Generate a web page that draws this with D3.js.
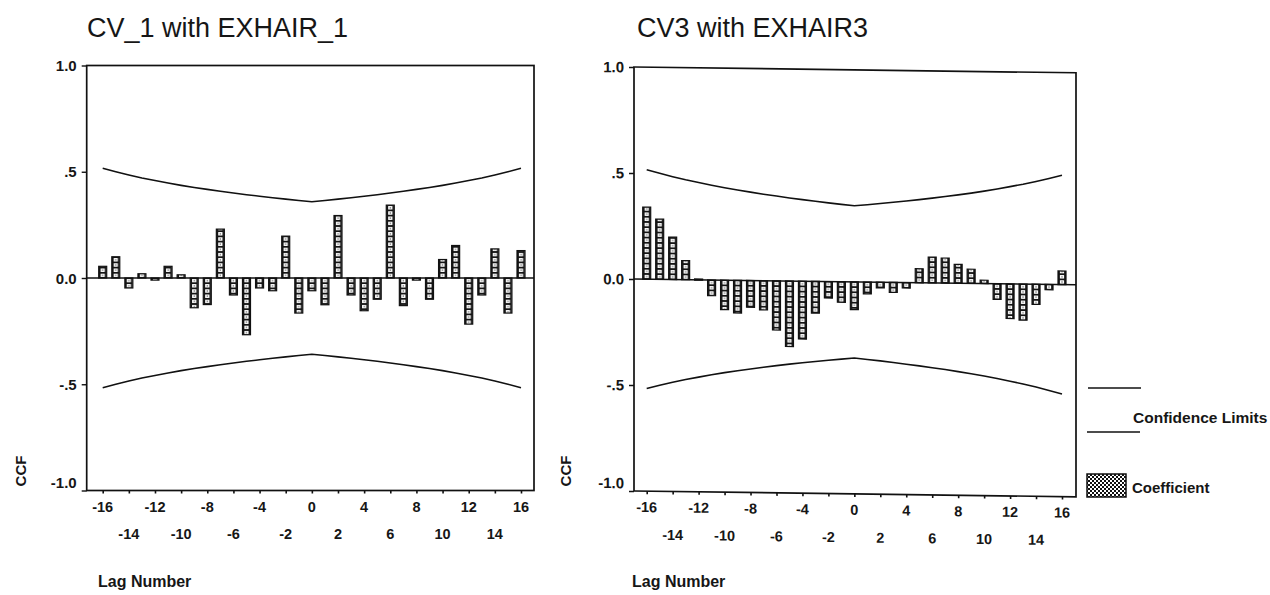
<!DOCTYPE html>
<html><head><meta charset="utf-8">
<script src="https://cdn.jsdelivr.net/npm/d3@7"></script>
<style>
body{margin:0;background:#fff}
svg{display:block}
text{font-family:"Liberation Sans",Arial,sans-serif;fill:#161616}
</style>
</head><body>
<svg id="c" width="1270" height="595"></svg>
<script>
// ---------------- data ----------------
const lags = [-16,-15,-14,-13,-12,-11,-10,-9,-8,-7,-6,-5,-4,-3,-2,-1,0,1,2,3,4,5,6,7,8,9,10,11,12,13,14,15,16];
const xTickValues = [-16,-14,-12,-10,-8,-6,-4,-2,0,2,4,6,8,10,12,14,16];
const xTickLabels = ["-16","-14","-12","-10","-8","-6","-4","-2","0","2","4","6","8","10","12","14","16"];
const yTicks = [1,0.5,0,-0.5,-1];
const yTickLabels = ["1.0",".5","0.0","-.5","-1.0"];
const titles = ["CV_1 with EXHAIR_1","CV3 with EXHAIR3"];
const xAxisTitle = "Lag Number";
const yAxisTitle = "CCF";
const legendLabels = ["Confidence Limits","Coefficient"];

const ccf1 = [0.055,0.10,-0.047,0.02,-0.01,0.055,0.015,-0.14,-0.125,0.23,-0.08,-0.267,-0.047,-0.06,0.197,-0.165,-0.06,-0.126,0.294,-0.08,-0.154,-0.10,0.343,-0.13,-0.01,-0.10,0.087,0.153,-0.217,-0.08,0.137,-0.165,0.129];
const ccf3 = [0.34,0.284,0.20,0.09,0.004,-0.074,-0.139,-0.154,-0.126,-0.138,-0.232,-0.309,-0.273,-0.15,-0.078,-0.097,-0.131,-0.056,-0.027,-0.047,-0.026,0.066,0.122,0.118,0.089,0.067,0.016,-0.074,-0.163,-0.17,-0.095,-0.025,0.064];

const confUpper = [0.516,0.500,0.485,0.471,0.459,0.447,0.436,0.426,0.417,0.408,0.400,0.392,0.385,0.378,0.371,0.365,0.359,0.365,0.371,0.378,0.385,0.392,0.400,0.408,0.417,0.426,0.436,0.447,0.459,0.471,0.485,0.500,0.516];
const confLower = [-0.516,-0.500,-0.485,-0.471,-0.459,-0.447,-0.436,-0.426,-0.417,-0.408,-0.400,-0.392,-0.385,-0.378,-0.371,-0.365,-0.359,-0.365,-0.371,-0.378,-0.385,-0.392,-0.400,-0.408,-0.417,-0.426,-0.436,-0.447,-0.459,-0.471,-0.485,-0.500,-0.516];

// ---------------- layout ----------------
const panels = [
  {key:"L", title:titles[0], values:ccf1, boxL:86.7, boxR:534, lagL:102.7, lagR:521, yTop:65.5, yBot:490.5,
   titleX:87, titleY:37, ccfX:26, lagTitleX:98, skew:0},
  {key:"R", title:titles[1], values:ccf3, boxL:634, boxR:1076, lagL:646.7, lagR:1062, yTop:67, yBot:491,
   titleX:637, titleY:37, ccfX:571, lagTitleX:632, skew:0.75}
];

const svg = d3.select("#c");
const defs = svg.append("defs");

// legend checker pattern
const lp = defs.append("pattern").attr("id","legPat").attr("patternUnits","userSpaceOnUse")
  .attr("width",4).attr("height",4).attr("x",0).attr("y",0);
lp.append("rect").attr("width",4).attr("height",4).attr("fill","#fff");
lp.append("rect").attr("width",2).attr("height",2).attr("fill","#111");
lp.append("rect").attr("x",2).attr("y",2).attr("width",2).attr("height",2).attr("fill","#111");

panels.forEach(p => {
  const x = d3.scaleLinear().domain([-16,16]).range([p.lagL,p.lagR]);
  const y = d3.scaleLinear().domain([1,-1]).range([p.yTop,p.yBot]);
  const step = x(1)-x(0);
  const bw = 8;
  const th = 5.2;

  // bar pattern aligned on lag columns: column of small hollow squares
  const pat = defs.append("pattern").attr("id","pat"+p.key).attr("patternUnits","userSpaceOnUse")
    .attr("x", x(-16)-bw/2).attr("y", y(0)).attr("width", step).attr("height", th);
  pat.append("rect").attr("width",bw).attr("height",th).attr("fill","#151515");
  pat.append("rect").attr("x",1.9).attr("y",0.9).attr("width",bw-3.8).attr("height",3.4).attr("fill","#fff");
  pat.append("rect").attr("x",bw/2-0.6).attr("y",2.0).attr("width",1.2).attr("height",1.2).attr("fill","#555");

  // title (not skewed)
  svg.append("text").attr("x",p.titleX).attr("y",p.titleY).attr("font-size",27).text(p.title);

  const g = svg.append("g")
    .attr("transform", `translate(${p.boxL},0) skewY(${p.skew}) translate(${-p.boxL},0)`);

  // confidence limits
  const line = d3.line().x((d,i)=>x(lags[i])).y(d=>y(d));
  g.append("path").attr("d", line(confUpper)).attr("fill","none").attr("stroke","#111").attr("stroke-width",1.6);
  g.append("path").attr("d", line(confLower)).attr("fill","none").attr("stroke","#111").attr("stroke-width",1.6);

  // bars
  g.selectAll("rect.bar").data(lags.map((l,i)=>({l, v:p.values[i]}))).join("rect")
    .attr("class","bar")
    .attr("x", d=>x(d.l)-bw/2).attr("width", bw)
    .attr("y", d=>Math.min(y(d.v), y(0)))
    .attr("height", d=>Math.max(1.2, Math.abs(y(d.v)-y(0))))
    .attr("fill", `url(#pat${p.key})`)
    .attr("stroke","#111").attr("stroke-width",1.2);

  // zero line
  g.append("line").attr("x1",p.boxL).attr("x2",p.boxR).attr("y1",y(0)).attr("y2",y(0))
    .attr("stroke","#111").attr("stroke-width",1.6);

  // frame
  g.append("rect").attr("x",p.boxL).attr("y",y(1)).attr("width",p.boxR-p.boxL).attr("height",y(-1)-y(1))
    .attr("fill","none").attr("stroke","#111").attr("stroke-width",1.7);

  // y axis
  const ya = g.append("g").attr("transform",`translate(${p.boxL},0)`)
    .call(d3.axisLeft(y).tickValues(yTicks).tickFormat((d,i)=>yTickLabels[i]).tickSize(5).tickPadding(5));
  ya.select(".domain").remove();
  ya.selectAll("line").attr("stroke","#111").attr("stroke-width",1.4);
  ya.selectAll("text").attr("font-size",15).attr("font-weight","bold").attr("fill","#161616")
    .attr("font-family",'"Liberation Sans",Arial,sans-serif')
    .attr("dy",(d)=> d===-1 ? "-0.2em" : "0.34em");

  // x axis
  const xa = g.append("g").attr("transform",`translate(0,${y(-1)})`)
    .call(d3.axisBottom(x).tickValues(xTickValues).tickFormat("").tickSize(3));
  xa.select(".domain").remove();
  xa.selectAll("line").attr("stroke","#111").attr("stroke-width",1.6);
  g.selectAll("text.xl").data(xTickValues).join("text").attr("class","xl")
    .attr("x", d=>x(d)).attr("y", (d,i)=> y(-1) + (i%2===0 ? 21 : 48.5))
    .attr("text-anchor","middle").attr("font-size",14.5).attr("font-weight","bold")
    .text((d,i)=>xTickLabels[i]);

  // axis titles
  svg.append("text").attr("transform",`translate(${p.ccfX},471) rotate(-90)`)
    .attr("text-anchor","middle").attr("font-size",15).attr("font-weight","bold").text(yAxisTitle);
  svg.append("text").attr("x",p.lagTitleX).attr("y",587).attr("font-size",16).attr("font-weight","bold").text(xAxisTitle);
});

// legend
const lg = svg.append("g");
lg.append("line").attr("x1",1088).attr("x2",1141).attr("y1",388).attr("y2",388).attr("stroke","#111").attr("stroke-width",1.6);
lg.append("line").attr("x1",1087).attr("x2",1140).attr("y1",432).attr("y2",432).attr("stroke","#111").attr("stroke-width",1.6);
lg.append("text").attr("x",1133).attr("y",423).attr("font-size",15.5).attr("font-weight","bold").text(legendLabels[0]);
lg.append("rect").attr("x",1087).attr("y",474).attr("width",39).attr("height",23)
  .attr("fill","url(#legPat)").attr("stroke","#111").attr("stroke-width",1.5);
lg.append("text").attr("x",1132).attr("y",493).attr("font-size",15).attr("font-weight","bold").text(legendLabels[1]);
</script>
</body></html>
